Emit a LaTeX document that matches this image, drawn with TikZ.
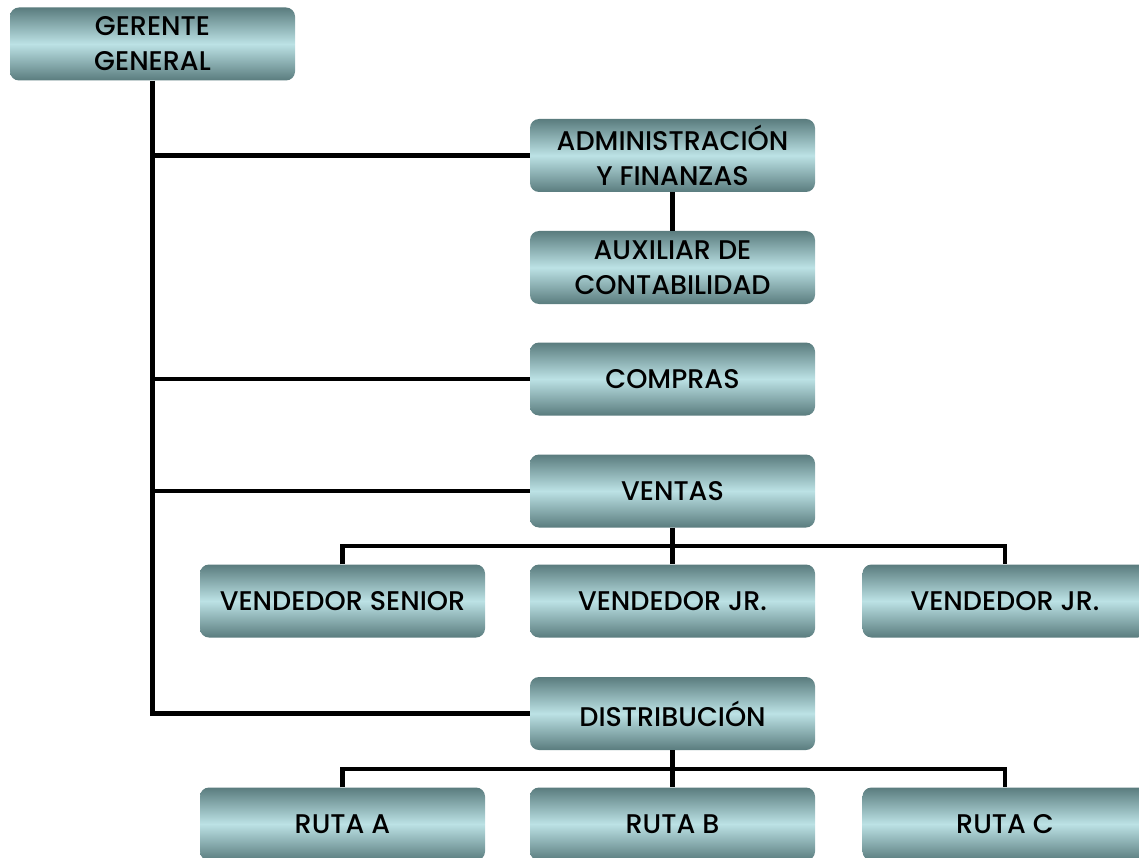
\documentclass[tikz,border=0pt]{standalone}
\usepackage{fontspec}
\setmainfont{Poppins}[UprightFont={* Medium}]
\usetikzlibrary{calc}
\definecolor{boxdark}{HTML}{5A7C7E}
\definecolor{boxlight}{HTML}{BCE2E5}
\tikzset{
  unit/.style={rounded corners=9pt, top color=boxdark, bottom color=boxdark,
    middle color=boxlight, minimum width=285pt, minimum height=73pt,
    align=center, font=\fontsize{27}{35}\selectfont, inner sep=0pt},
  link/.style={line width=4.4pt, black}
}
\begin{document}
\begin{tikzpicture}[x=1pt,y=-1pt]
\useasboundingbox (0,0) rectangle (1139,858);
% boxes
\node[unit] (ger) at (152.5,44)   {GERENTE\\GENERAL};
\node[unit] (adm) at (672.5,155.5) {ADMINISTRACIÓN\\Y FINANZAS};
\node[unit] (aux) at (672.5,267.5) {AUXILIAR DE\\CONTABILIDAD};
\node[unit] (com) at (672.5,379)  {COMPRAS};
\node[unit] (ven) at (672.5,491)  {VENTAS};
\node[unit] (vs)  at (342.5,601)  {VENDEDOR SENIOR};
\node[unit] (vj1) at (672.5,601)  {VENDEDOR JR.};
\node[unit] (vj2) at (1005,601)   {VENDEDOR JR.};
\node[unit] (dis) at (672.5,713.5) {DISTRIBUCIÓN};
\node[unit] (ra)  at (342.5,824)  {RUTA A};
\node[unit] (rb)  at (672.5,824)  {RUTA B};
\node[unit] (rc)  at (1005,824)   {RUTA C};
% trunk from the general manager
\draw[link] (ger.south) -- (ger.south |- dis.west) -- (dis.west);
\draw[link] (ger.south |- adm.west) -- (adm.west);
\draw[link] (ger.south |- com.west) -- (com.west);
\draw[link] (ger.south |- ven.west) -- (ven.west);
\draw[link] (adm.south) -- (aux.north);
% sales team
\coordinate (vmid) at ($(ven.south)!0.5!(vj1.north)$);
\draw[link] (ven.south) -- (vj1.north);
\draw[link] (vs.north) |- (vmid) -| (vj2.north);
% distribution routes
\coordinate (dmid) at ($(dis.south)!0.5!(rb.north)$);
\draw[link] (dis.south) -- (rb.north);
\draw[link] (ra.north) |- (dmid) -| (rc.north);
\end{tikzpicture}
\end{document}
